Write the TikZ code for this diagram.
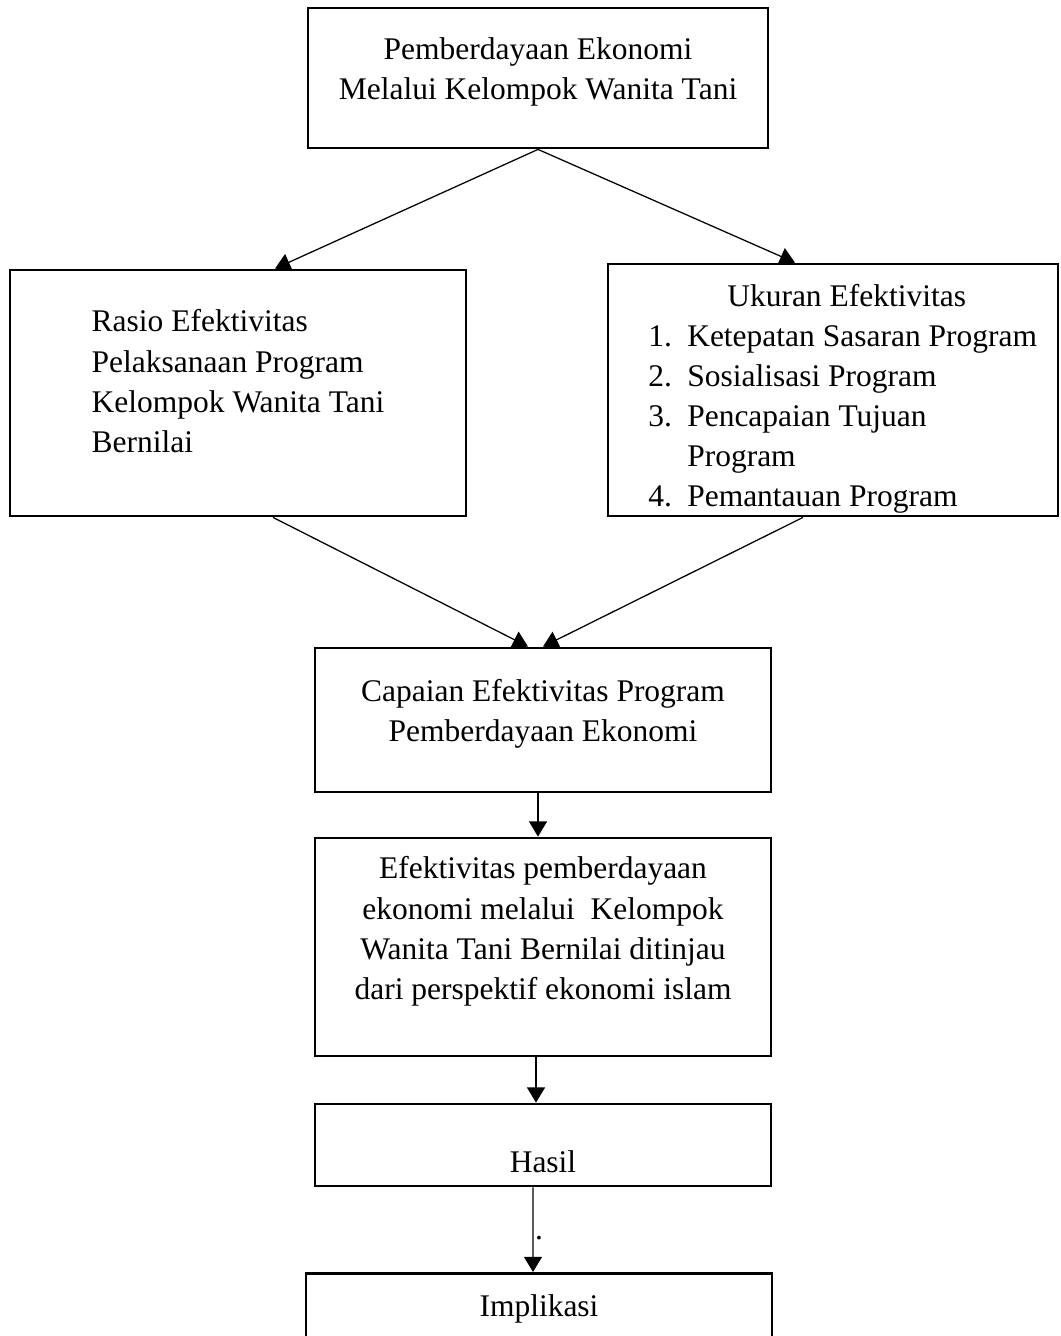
\documentclass[tikz,border=0pt]{standalone}
\usepackage{fontspec}
\setmainfont{Liberation Serif}
\usetikzlibrary{arrows.meta}
\newcommand{\boxfont}{\fontsize{22.4}{28.5}\selectfont}
\newcommand{\nr}[1]{\makebox[0.975cm][l]{#1}}

\begin{document}
\begin{tikzpicture}[box/.style={draw,line width=2pt,font=\boxfont,align=center,inner ysep=2pt}]
    \useasboundingbox (0,0) rectangle (26.5,-33.4);
    \node (1) at (13.45,-1.95) [box,minimum width=11.5cm,minimum height=3.5cm] {Pemberdayaan Ekonomi\\Melalui Kelompok Wanita Tani\\[-0.55cm]};
    \node (2) at (5.95,-9.825) [box,align=left,minimum width=11.4cm,minimum height=6.15cm] {Rasio Efektivitas\\Pelaksanaan Program\\Kelompok Wanita Tani\\Bernilai\\[-0.4cm]};
    \node (3) at (20.825,-9.75) [box,minimum width=11.25cm,minimum height=6.3cm] {};
    \node (3b) at (16.2,-7.1) [anchor=north west,inner sep=0pt,font=\boxfont,align=left] {\hspace*{1.975cm}Ukuran Efektivitas\\\nr{1.}Ketepatan Sasaran Program\\\nr{2.}Sosialisasi Program\\\nr{3.}Pencapaian Tujuan\\\nr{}Program\\\nr{4.}Pemantauan Program};
    \node (4) at (13.575,-18) [box,minimum width=11.4cm,minimum height=3.6cm] {Capaian Efektivitas Program\\Pemberdayaan Ekonomi\\[-0.5cm]};
    \node (5) at (13.575,-23.675) [box,minimum width=11.4cm,minimum height=5.45cm] {Efektivitas pemberdayaan\\ekonomi melalui \ Kelompok\\Wanita Tani Bernilai ditinjau\\dari perspektif ekonomi islam\\[-0.05cm]};
    \node (6) at (13.575,-28.625) [box,minimum width=11.4cm,minimum height=2.05cm,text height=1.5cm,text depth=0.15cm] {Hasil};
    \node (7) at (13.475,-31.8) [box,anchor=north,minimum width=11.65cm,inner ysep=0pt,text height=1.075cm,text depth=2cm] {Implikasi};

    \path[every node/.style={font=\boxfont}]
    (1.south) [-{Triangle[width=0.45cm,length=0.38cm]},black,line width=0.9pt] edge ([xshift=0.925cm]2.north)
    (1.south) [-{Triangle[width=0.45cm,length=0.38cm]},black,line width=0.9pt] edge ([xshift=-0.95cm]3.north)
    ([xshift=0.875cm]2.south) [-{Triangle[width=0.45cm,length=0.38cm]},black,line width=0.9pt] edge ([xshift=-0.375cm]4.north)
    ([xshift=-0.75cm]3.south) [-{Triangle[width=0.45cm,length=0.38cm]},black,line width=0.9pt] edge (4.north)
    ([xshift=-0.125cm]4.south) [-{Triangle[width=0.45cm,length=0.38cm]},black,line width=0.9pt] edge ([xshift=-0.125cm]5.north)
    ([xshift=-0.175cm]5.south) [-{Triangle[width=0.45cm,length=0.38cm]},black,line width=0.9pt] edge ([xshift=-0.175cm]6.north)
    ([xshift=-0.25cm]6.south) [-{Triangle[width=0.45cm,length=0.38cm]},black,line width=0.9pt] edge node [pos=0.6,right,inner sep=1pt] {.} ([xshift=-0.15cm]7.north);
\end{tikzpicture}
\end{document}
